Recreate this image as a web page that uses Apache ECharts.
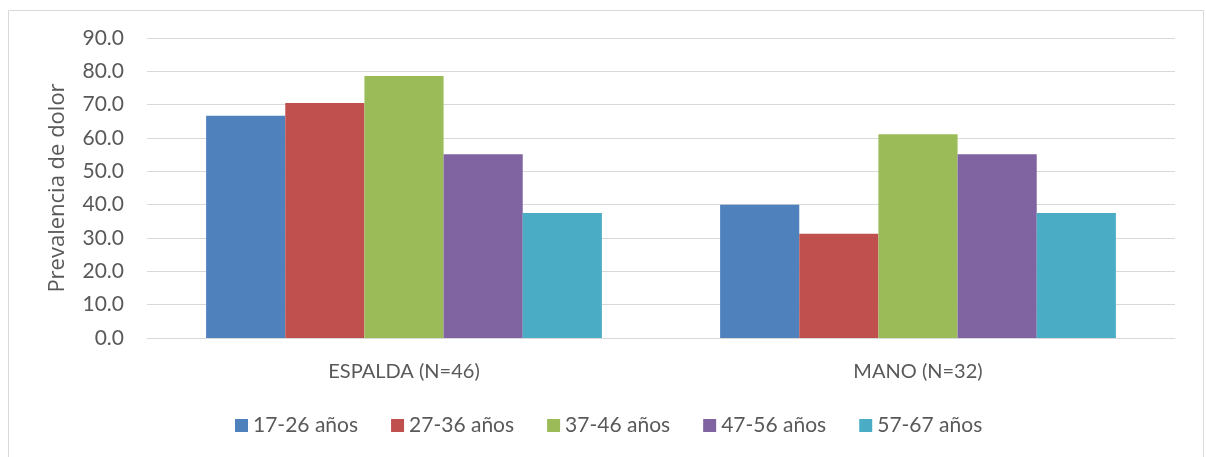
<!DOCTYPE html>
<html>
<head>
<meta charset="utf-8">
<script src="https://cdn.jsdelivr.net/npm/echarts@6/dist/echarts.min.js"></script>
<style>
html,body{margin:0;padding:0;background:#fff;}
#c{width:1206px;height:457px;}
</style>
</head>
<body>
<div id="c"></div>
<script>
var categories = ['ESPALDA (N=46)', 'MANO (N=32)'];
var seriesNames = ['17-26 años', '27-36 años', '37-46 años', '47-56 años', '57-67 años'];
var s1726 = [66.7, 40.0];
var s2736 = [70.5, 31.3];
var s3746 = [78.6, 61.1];
var s4756 = [55.1, 55.1];
var s5767 = [37.5, 37.5];
var yTicks = [0, 10, 20, 30, 40, 50, 60, 70, 80, 90];
var colors = ['#4F81BD', '#C0504D', '#9BBB59', '#8064A2', '#4BACC6'];

var allValues = [s1726, s2736, s3746, s4756, s5767];
var font = 'Lato, "Open Sans", sans-serif';
var chart = echarts.init(document.getElementById('c'));
chart.setOption({
  animation: false,
  backgroundColor: '#fff',
  color: colors,
  graphic: [{
    type: 'rect',
    shape: {x: 8.5, y: 10.5, width: 1195, height: 460},
    style: {fill: 'none', stroke: '#d9d9d9', lineWidth: 1}
  }],
  grid: {left: 147, right: 31, top: 38, bottom: 119, containLabel: false},
  legend: {
    top: 410,
    left: 230,
    itemWidth: 13,
    itemHeight: 13,
    itemGap: 33,
    icon: 'rect',
    textStyle: {color: '#595959', fontSize: 21, fontFamily: font},
    data: seriesNames
  },
  xAxis: {
    type: 'category',
    data: categories,
    axisLine: {lineStyle: {color: '#d9d9d9', width: 1}},
    axisTick: {show: false},
    axisLabel: {color: '#595959', fontSize: 20, fontFamily: font, margin: 24}
  },
  yAxis: {
    type: 'value',
    min: yTicks[0],
    max: yTicks[yTicks.length - 1],
    interval: 10,
    name: 'Prevalencia de dolor',
    nameLocation: 'middle',
    nameGap: 78,
    nameTextStyle: {color: '#595959', fontSize: 22, fontFamily: '"Open Sans", Lato, sans-serif'},
    axisLine: {show: false},
    axisTick: {show: false},
    axisLabel: {color: '#595959', fontSize: 21, fontFamily: font, margin: 23,
      formatter: function (v) { return v.toFixed(1); }},
    splitLine: {lineStyle: {color: '#d9d9d9', width: 1}}
  },
  series: seriesNames.map(function (n, i) {
    return {
      name: n,
      type: 'bar',
      data: allValues[i],
      barGap: '0%',
      barCategoryGap: '23%'
    };
  })
});
</script>
</body>
</html>
